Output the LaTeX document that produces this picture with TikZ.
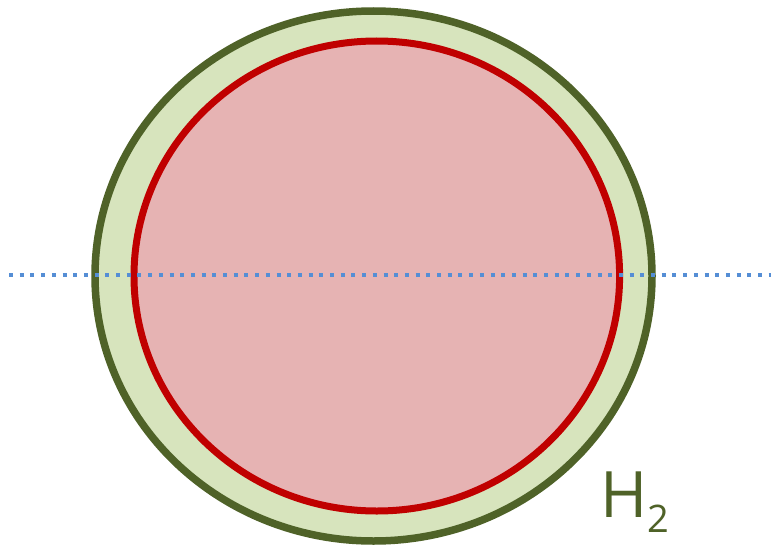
\documentclass[tikz,border=0pt]{standalone}
\usepackage{fontspec}
\setsansfont{Open Sans}
\usepackage{xcolor}
\definecolor{shellgreen}{HTML}{4F6228}
\definecolor{shellfill}{HTML}{D7E4BD}
\definecolor{coreRed}{HTML}{C00000}
\definecolor{coreFill}{HTML}{E6B3B3}
\definecolor{axisBlue}{HTML}{558ED5}

\begin{document}
\begin{tikzpicture}[x=1pt,y=-1pt]
\useasboundingbox (0,0) rectangle (771,551);
\tikzset{
  shell/.style={draw=shellgreen, fill=shellfill, line width=7.5pt},
  core/.style={draw=coreRed, fill=coreFill, line width=7pt},
  dotline/.style={draw=axisBlue, line width=4pt, dash pattern=on 4pt off 6.7pt}
}
\draw[shell] (373.5,276) ellipse [x radius=278.5, y radius=265];
\draw[core] (376.8,276) ellipse [x radius=242.8, y radius=235];
\coordinate (lineL) at (9,275);
\coordinate (lineR) at (771,275);
\draw[dotline] (lineL) -- (lineR);
\node[anchor=base west, inner sep=0pt, text=shellgreen, font=\sffamily] (htwo) at (600,517)
  {\fontsize{64}{64}\selectfont H\raisebox{-15pt}{\fontsize{38}{38}\selectfont 2}};
\end{tikzpicture}
\end{document}
